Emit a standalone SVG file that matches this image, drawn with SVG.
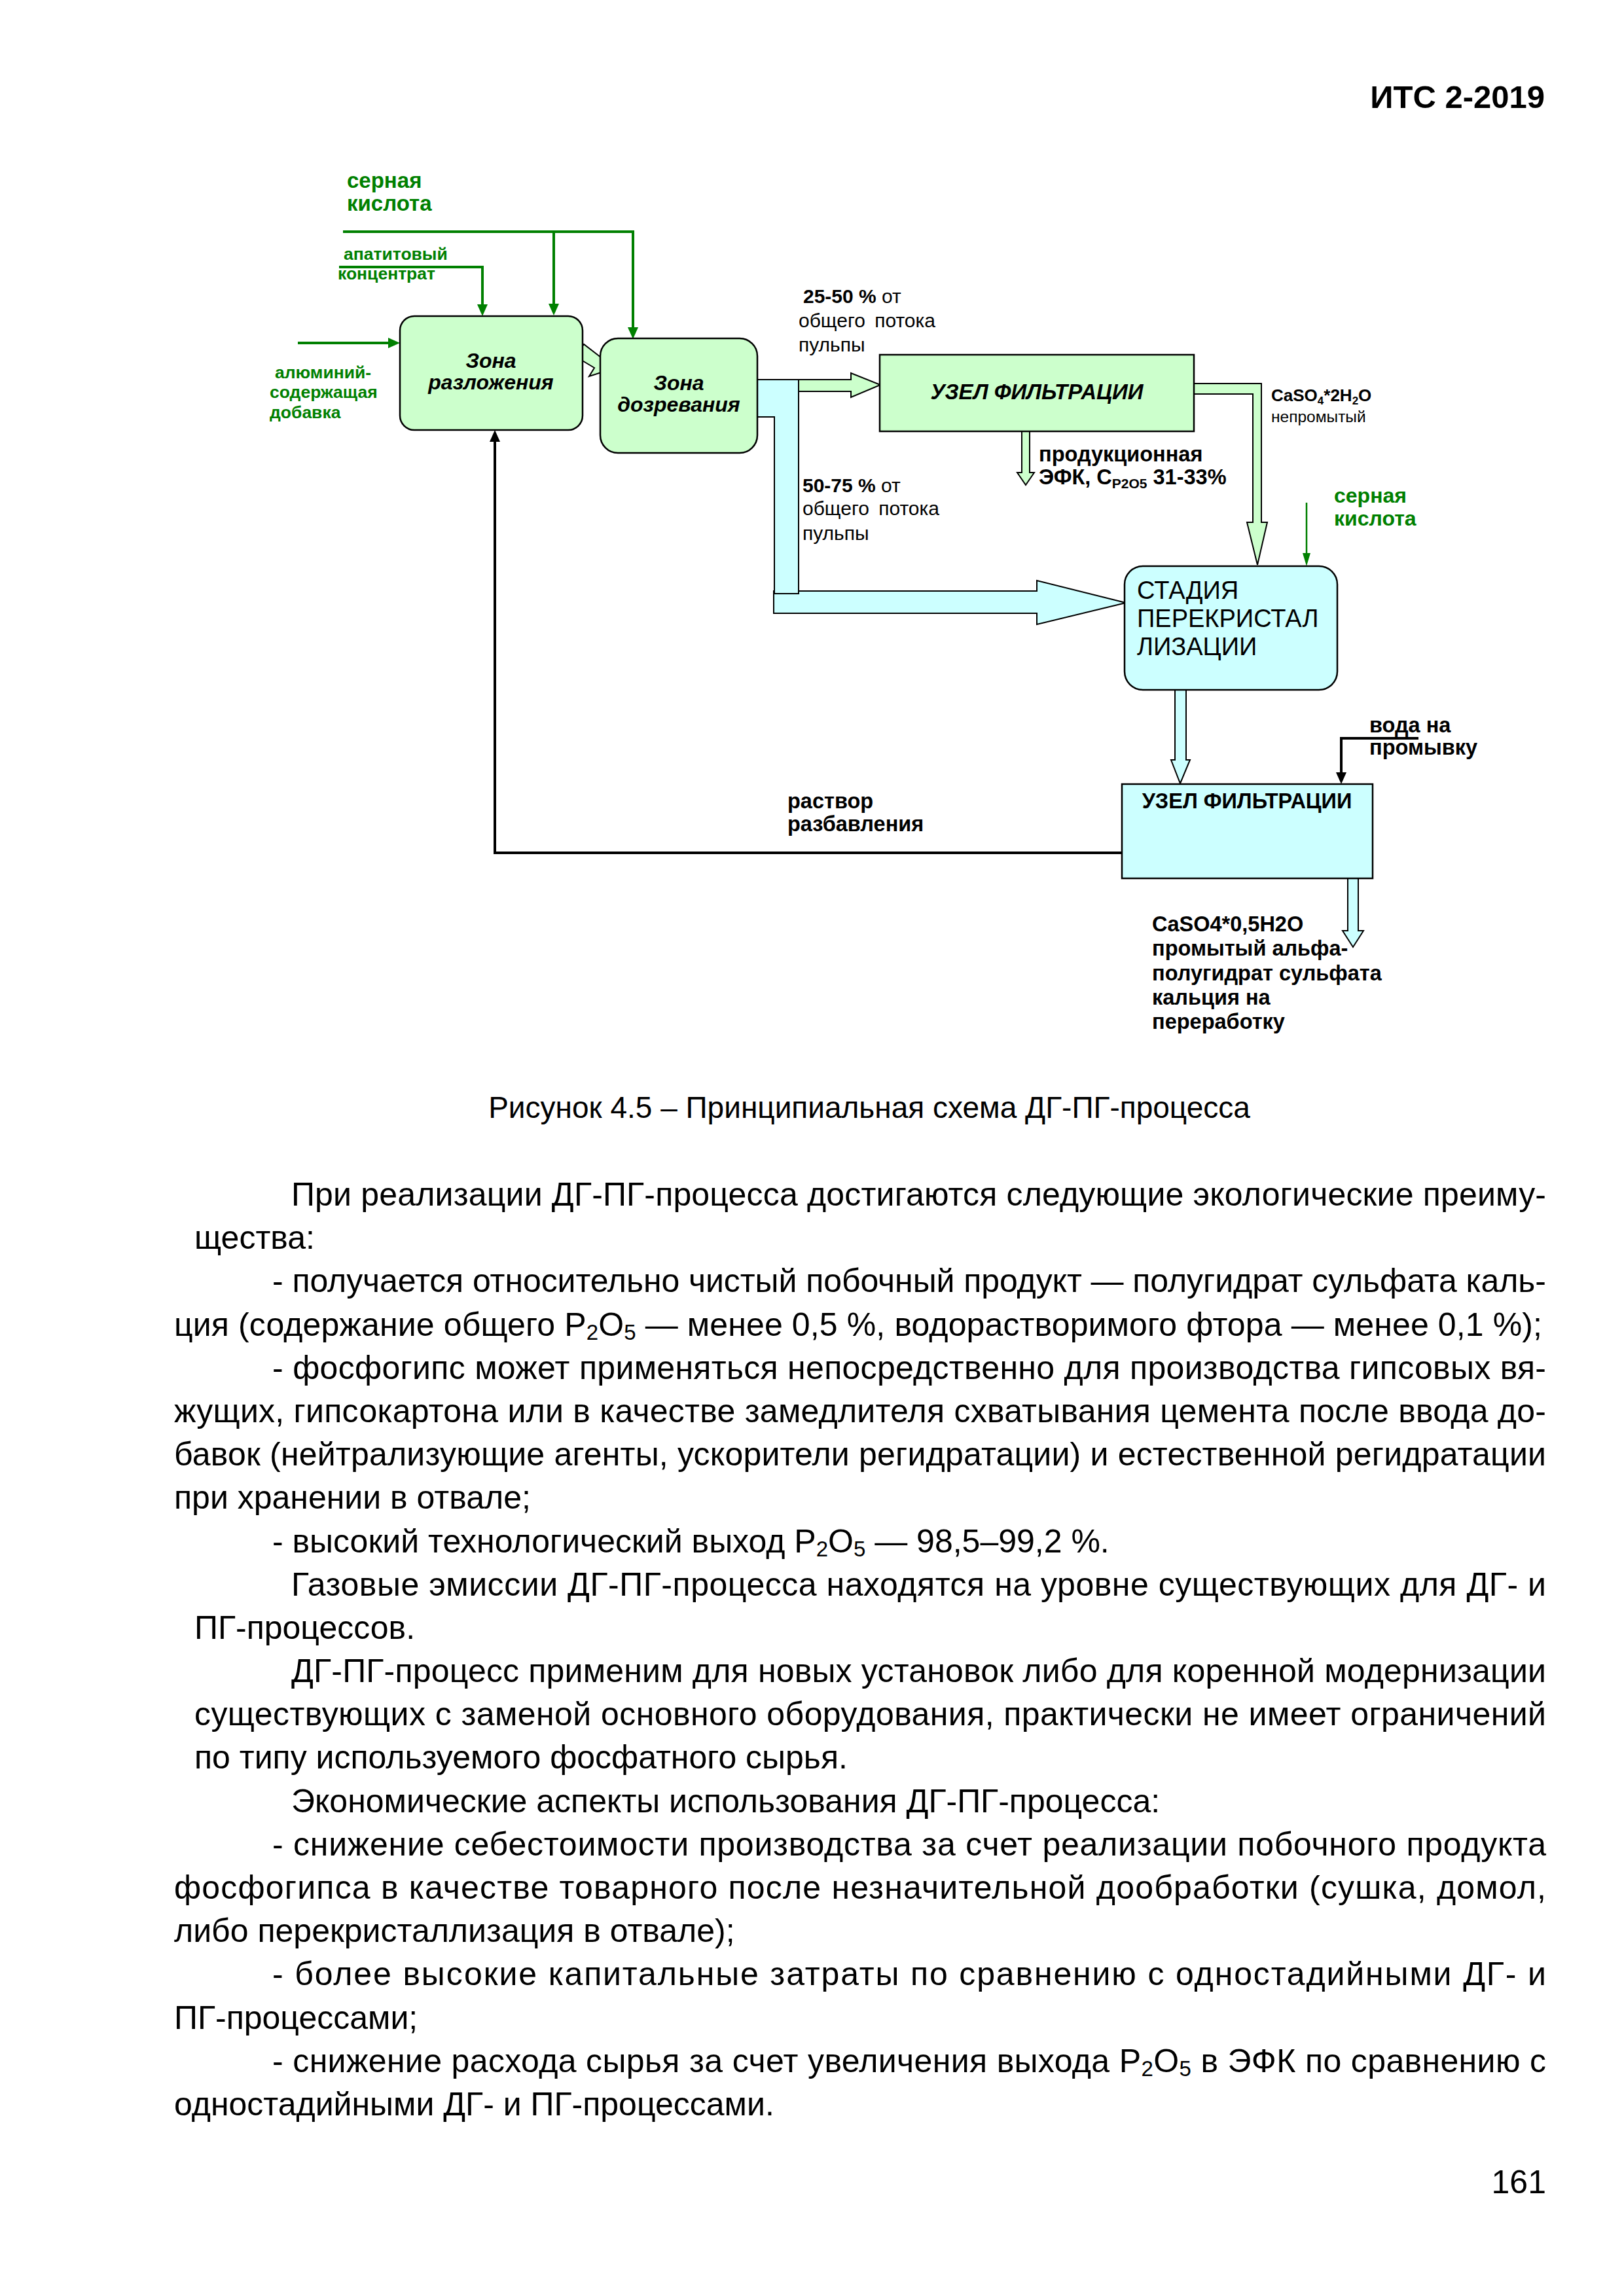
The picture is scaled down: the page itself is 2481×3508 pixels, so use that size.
<svg xmlns="http://www.w3.org/2000/svg" width="2481" height="3508" viewBox="0 0 2481 3508">
<style>
text{font-family:"Liberation Sans",Arial,sans-serif;fill:#000}
.b{font-weight:bold}
.bi{font-weight:bold;font-style:italic}
.gr{fill:#008000;font-weight:bold}
.body{font-size:50px}
.ng{fill:#CCFFCC;stroke:#000;stroke-width:2.5}
.nc{fill:#CCFFFF;stroke:#000;stroke-width:2.5}
.pg{fill:#CCFFCC;stroke:#000;stroke-width:2}
.pc{fill:#CCFFFF;stroke:#000;stroke-width:2}
.lg{fill:none;stroke:#008000;stroke-width:4}
.lgt{fill:none;stroke:#008000;stroke-width:2.5}
.lk{fill:none;stroke:#000;stroke-width:4}
</style>
<defs>
<marker id="ahG" viewBox="0 0 18 16" refX="8" refY="8" markerWidth="18" markerHeight="16" markerUnits="userSpaceOnUse" orient="auto"><path d="M0,0 L18,8 L0,16 Z" fill="#008000"/></marker>
<marker id="ahGt" viewBox="0 0 20 12" refX="12" refY="6" markerWidth="20" markerHeight="12" markerUnits="userSpaceOnUse" orient="auto"><path d="M0,0 L20,6 L0,12 Z" fill="#008000"/></marker>
<marker id="ahK" viewBox="0 0 18 16" refX="8" refY="8" markerWidth="18" markerHeight="16" markerUnits="userSpaceOnUse" orient="auto"><path d="M0,0 L18,8 L0,16 Z" fill="#000"/></marker>
</defs>
<rect width="2481" height="3508" fill="#fff"/>

<text class="b" x="2360" y="165" font-size="49" text-anchor="end">ИТС 2-2019</text>

<g id="connectors">
  <polygon class="pc" points="1182,903 1584,903 1584,887 1720,921 1584,954 1584,937 1182,937"/>
  <polygon class="pc" points="1157,580 1220,580 1220,907 1183,907 1183,637 1157,637"/>
  <polygon class="pg" points="1220,580 1300,580 1300,570 1345,588 1300,607 1300,598 1220,598"/>
  <polygon class="pg" points="878,544 892,526 918,546 929,537 928,566 900,575 908,562"/>
  <polygon class="pg" points="1824,586 1927,586 1927,798 1936,798 1921,863 1905,798 1914,798 1914,602 1824,602"/>
  <polygon class="pg" points="1561,659 1573,659 1573,722 1580,722 1567,741 1554,722 1561,722"/>
  <polygon class="pc" points="1795,1054 1812,1054 1812,1161 1818,1161 1803,1197 1789,1161 1795,1161"/>
  <polygon class="pc" points="2059,1342 2075,1342 2075,1422 2083,1422 2067,1447 2051,1422 2059,1422"/>
  <path class="lg" d="M524,354 H967 V508" marker-end="url(#ahG)"/>
  <path class="lg" d="M846,354 V472" marker-end="url(#ahG)"/>
  <path class="lg" d="M518,408 H737 V473" marker-end="url(#ahG)"/>
  <path class="lg" d="M455,524 H601" marker-end="url(#ahG)"/>
  <path class="lgt" d="M1996,768 V857" marker-end="url(#ahGt)"/>
  <path class="lk" d="M1714,1303 H756 V667" marker-end="url(#ahK)"/>
  <path class="lk" d="M2167,1128 H2049 V1188" marker-end="url(#ahK)"/>
</g>

<g id="label-sulfuric-top">
  <text class="gr" x="530" y="287" font-size="33">серная</text>
  <text class="gr" x="530" y="322" font-size="33">кислота</text>
</g>
<g id="label-apatite">
  <text class="gr" x="525" y="397" font-size="26.5">апатитовый</text>
  <text class="gr" x="516" y="427" font-size="26.5">концентрат</text>
</g>
<g id="label-aluminium">
  <text class="gr" x="420" y="578" font-size="26.5">алюминий-</text>
  <text class="gr" x="412" y="608" font-size="26.5">содержащая</text>
  <text class="gr" x="412" y="639" font-size="26.5">добавка</text>
</g>

<g id="node-decomposition">
  <rect class="ng" x="611" y="483" width="279" height="174" rx="22"/>
  <text class="bi" x="750" y="562" font-size="32" text-anchor="middle">Зона</text>
  <text class="bi" x="750" y="595" font-size="32" text-anchor="middle">разложения</text>
</g>
<g id="node-maturation">
  <rect class="ng" x="917" y="517" width="240" height="175" rx="27"/>
  <text class="bi" x="1037" y="596" font-size="32" text-anchor="middle">Зона</text>
  <text class="bi" x="1037" y="629" font-size="32" text-anchor="middle">дозревания</text>
</g>
<g id="node-filter1">
  <rect class="ng" x="1344" y="542" width="480" height="117"/>
  <text class="bi" x="1584" y="610" font-size="33" text-anchor="middle">УЗЕЛ ФИЛЬТРАЦИИ</text>
</g>
<g id="node-recryst">
  <rect class="nc" x="1718" y="865" width="325" height="189" rx="28"/>
  <text x="1737" y="915" font-size="38">СТАДИЯ</text>
  <text x="1737" y="958" font-size="38">ПЕРЕКРИСТАЛ</text>
  <text x="1737" y="1001" font-size="38">ЛИЗАЦИИ</text>
</g>
<g id="node-filter2">
  <rect class="nc" x="1714" y="1198" width="383" height="144"/>
  <text class="b" x="1905" y="1235" font-size="32.5" text-anchor="middle">УЗЕЛ ФИЛЬТРАЦИИ</text>
</g>

<g id="label-25-50">
  <text x="1227" y="463" font-size="30"><tspan class="b">25-50 %</tspan> от</text>
  <text x="1220" y="500" font-size="30" word-spacing="6">общего потока</text>
  <text x="1220" y="537" font-size="30">пульпы</text>
</g>
<g id="label-50-75">
  <text x="1226" y="752" font-size="30"><tspan class="b">50-75 %</tspan> от</text>
  <text x="1226" y="787" font-size="30" word-spacing="6">общего потока</text>
  <text x="1226" y="825" font-size="30">пульпы</text>
</g>
<g id="label-product">
  <text class="b" x="1587" y="705" font-size="32.5">продукционная</text>
  <text class="b" x="1587" y="740" font-size="32.5">ЭФК, С<tspan font-size="21" dy="6">P2O5</tspan><tspan dy="-6"> 31-33%</tspan></text>
</g>
<g id="label-gypsum">
  <text class="b" x="1942" y="613" font-size="26">CaSO<tspan font-size="17" dy="5">4</tspan><tspan dy="-5">*2H</tspan><tspan font-size="17" dy="5">2</tspan><tspan dy="-5">O</tspan></text>
  <text x="1942" y="645" font-size="24.5">непромытый</text>
</g>
<g id="label-sulfuric-right">
  <text class="gr" x="2038" y="768" font-size="32">серная</text>
  <text class="gr" x="2038" y="803" font-size="32">кислота</text>
</g>
<g id="label-water">
  <text class="b" x="2092" y="1119" font-size="32.5">вода на</text>
  <text class="b" x="2092" y="1153" font-size="32.5">промывку</text>
</g>
<g id="label-dilution">
  <text class="b" x="1203" y="1235" font-size="32.5">раствор</text>
  <text class="b" x="1203" y="1270" font-size="32.5">разбавления</text>
</g>
<g id="label-hemihydrate">
  <text class="b" x="1760" y="1423" font-size="32.5">CaSO4*0,5H2O</text>
  <text class="b" x="1760" y="1460" font-size="32.5">промытый альфа-</text>
  <text class="b" x="1760" y="1498" font-size="32.5">полугидрат сульфата</text>
  <text class="b" x="1760" y="1535" font-size="32.5">кальция на</text>
  <text class="b" x="1760" y="1572" font-size="32.5">переработку</text>
</g>

<text x="1328" y="1708" font-size="46" text-anchor="middle">Рисунок 4.5 – Принципиальная схема ДГ-ПГ-процесса</text>

<g id="body" class="body">
  <text x="445" y="1842" textLength="1917" lengthAdjust="spacing">При реализации ДГ-ПГ-процесса достигаются следующие экологические преиму-</text>
  <text x="297" y="1908">щества:</text>
  <text x="416" y="1974" textLength="1946" lengthAdjust="spacing">- получается относительно чистый побочный продукт — полугидрат сульфата каль-</text>
  <text x="266" y="2041" textLength="2090" lengthAdjust="spacing">ция (содержание общего P<tspan font-size="33" dy="6">2</tspan><tspan dy="-6">O</tspan><tspan font-size="33" dy="6">5</tspan><tspan dy="-6"> — менее 0,5 %, водорастворимого фтора — менее 0,1 %);</tspan></text>
  <text x="416" y="2107" textLength="1946" lengthAdjust="spacing">- фосфогипс может применяться непосредственно для производства гипсовых вя-</text>
  <text x="266" y="2173" textLength="2096" lengthAdjust="spacing">жущих, гипсокартона или в качестве замедлителя схватывания цемента после ввода до-</text>
  <text x="266" y="2239" textLength="2096" lengthAdjust="spacing">бавок (нейтрализующие агенты, ускорители регидратации) и естественной регидратации</text>
  <text x="266" y="2305">при хранении в отвале;</text>
  <text x="416" y="2372">- высокий технологический выход P<tspan font-size="33" dy="6">2</tspan><tspan dy="-6">O</tspan><tspan font-size="33" dy="6">5</tspan><tspan dy="-6"> — 98,5–99,2 %.</tspan></text>
  <text x="445" y="2438" textLength="1917" lengthAdjust="spacing">Газовые эмиссии ДГ-ПГ-процесса находятся на уровне существующих для ДГ- и</text>
  <text x="297" y="2504">ПГ-процессов.</text>
  <text x="445" y="2570" textLength="1917" lengthAdjust="spacing">ДГ-ПГ-процесс применим для новых установок либо для коренной модернизации</text>
  <text x="297" y="2636" textLength="2065" lengthAdjust="spacing">существующих с заменой основного оборудования, практически не имеет ограничений</text>
  <text x="297" y="2702">по типу используемого фосфатного сырья.</text>
  <text x="445" y="2769">Экономические аспекты использования ДГ-ПГ-процесса:</text>
  <text x="416" y="2835" textLength="1946" lengthAdjust="spacing">- снижение себестоимости производства за счет реализации побочного продукта</text>
  <text x="266" y="2901" textLength="2096" lengthAdjust="spacing">фосфогипса в качестве товарного после незначительной дообработки (сушка, домол,</text>
  <text x="266" y="2967">либо перекристаллизация в отвале);</text>
  <text x="416" y="3033" textLength="1946" lengthAdjust="spacing">- более высокие капитальные затраты по сравнению с одностадийными ДГ- и</text>
  <text x="266" y="3100">ПГ-процессами;</text>
  <text x="416" y="3166" textLength="1946" lengthAdjust="spacing">- снижение расхода сырья за счет увеличения выхода P<tspan font-size="33" dy="6">2</tspan><tspan dy="-6">O</tspan><tspan font-size="33" dy="6">5</tspan><tspan dy="-6"> в ЭФК по сравнению с</tspan></text>
  <text x="266" y="3232">одностадийными ДГ- и ПГ-процессами.</text>
</g>

<text x="2362" y="3351" font-size="50" text-anchor="end">161</text>
</svg>
